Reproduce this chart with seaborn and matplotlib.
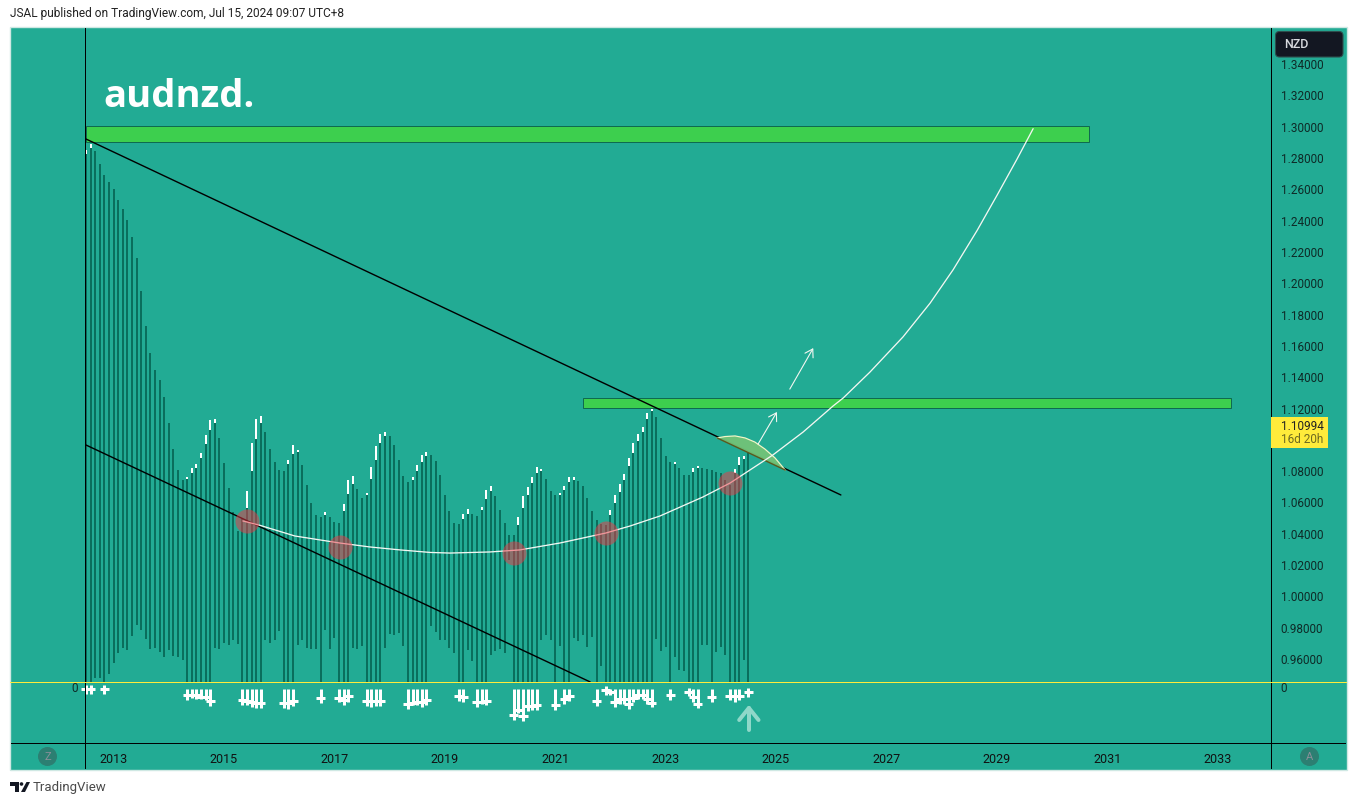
import matplotlib
matplotlib.use("Agg")
import matplotlib.pyplot as plt
from matplotlib.patches import Rectangle, Ellipse, Polygon, FancyBboxPatch
import numpy as np
import pandas as pd
import seaborn as sns

# ---------- data ----------
B = 0.9455  # the zero line of the lower pane
high = [
 1.2851,1.2889,1.2845,1.2762,1.2692,1.2647,1.2602,1.2532,1.2474,1.2404,
 1.2296,1.2161,1.1951,1.1727,1.1555,1.1446,1.1382,1.1274,1.1108,1.0942,
 1.0808,1.0744,1.0763,1.0821,1.0846,1.0916,1.1031,1.1127,1.1133,1.1012,
 1.0853,1.0693,1.0540,1.0418,1.0501,1.0673,1.0980,1.1133,1.1153,1.1050,
 1.0942,1.0859,1.0808,1.0801,1.0872,1.0967,1.0935,1.0840,1.0712,1.0597,
 1.0520,1.0508,1.0540,1.0508,1.0476,1.0469,1.0591,1.0744,1.0769,1.0686,
 1.0629,1.0661,1.0827,1.0961,1.1038,1.1050,1.1025,1.0967,1.0872,1.0769,
 1.0731,1.0763,1.0840,1.0904,1.0923,1.0904,1.0865,1.0776,1.0648,1.0546,
 1.0469,1.0463,1.0527,1.0559,1.0527,1.0514,1.0571,1.0680,1.0705,1.0642,
 1.0552,1.0469,1.0393,1.0393,1.0508,1.0642,1.0699,1.0763,1.0827,1.0814,
 1.0750,1.0673,1.0648,1.0661,1.0705,1.0763,1.0763,1.0737,1.0705,1.0629,
 1.0546,1.0489,1.0463,1.0457,1.0552,1.0648,1.0718,1.0782,1.0884,1.0980,
 1.1038,1.1082,1.1172,1.1223,1.1146,1.1012,1.0897,1.0859,1.0859,1.0821,
 1.0776,1.0776,1.0821,1.0833,1.0821,1.0814,1.0808,1.0795,1.0789,1.0744,
 1.0712,1.0814,1.0891,1.0897,1.0916]
body_top = [
 1.2826,1.2864,1.2845,1.2762,1.2692,1.2647,1.2602,1.2532,1.2474,1.2404,
 1.2296,1.2161,1.1951,1.1727,1.1555,1.1446,1.1382,1.1274,1.1108,1.0942,
 1.0808,1.0744,1.0750,1.0789,1.0821,1.0884,1.0974,1.1063,1.1108,1.1012,
 1.0853,1.0693,1.0540,1.0418,1.0501,1.0565,1.0801,1.1006,1.1108,1.1050,
 1.0942,1.0859,1.0808,1.0801,1.0846,1.0910,1.0923,1.0840,1.0712,1.0597,
 1.0520,1.0508,1.0520,1.0508,1.0476,1.0469,1.0546,1.0654,1.0718,1.0686,
 1.0629,1.0648,1.0750,1.0872,1.0980,1.1025,1.1025,1.0967,1.0872,1.0769,
 1.0731,1.0744,1.0801,1.0859,1.0897,1.0904,1.0865,1.0776,1.0648,1.0546,
 1.0469,1.0463,1.0495,1.0527,1.0527,1.0514,1.0552,1.0622,1.0673,1.0642,
 1.0552,1.0469,1.0393,1.0393,1.0457,1.0565,1.0648,1.0725,1.0789,1.0801,
 1.0750,1.0673,1.0648,1.0648,1.0680,1.0731,1.0744,1.0737,1.0705,1.0629,
 1.0546,1.0489,1.0463,1.0457,1.0520,1.0597,1.0667,1.0744,1.0833,1.0916,
 1.0993,1.1050,1.1133,1.1184,1.1146,1.1012,1.0897,1.0859,1.0846,1.0821,
 1.0776,1.0776,1.0795,1.0821,1.0821,1.0814,1.0808,1.0795,1.0789,1.0744,
 1.0712,1.0789,1.0840,1.0878,1.0916]
body_low = [
 B,B,.9480,.9480,B,.9505,.9576,.9640,.9671,.9659,
 .9748,.9818,.9786,.9729,.9665,.9671,.9646,.9614,.9659,.9620,
 .9614,.9595,B,B,B,B,B,B,.9671,.9665,
 .9703,.9691,.9723,.9697,B,B,B,B,B,.9723,
 .9703,.9723,.9780,B,B,B,.9691,.9723,.9671,.9665,
 .9665,B,.9786,.9665,.9735,B,B,B,.9671,.9665,
 .9684,B,B,B,B,.9671,.9761,.9754,.9767,.9684,
 B,B,B,B,B,.9812,.9773,.9723,.9723,.9671,
 .9640,B,B,.9659,.9588,B,B,B,.9627,.9652,
 .9665,.9640,1.0233,B,B,B,B,B,B,.9723,
 .9754,.9723,B,.9684,B,B,.9735,.9716,.9754,.9678,
 .9742,B,.9557,B,B,B,B,B,B,B,
 B,B,B,B,.9729,.9652,.9678,B,.9614,.9531,
 .9525,B,B,B,.9691,.9691,B,.9646,.9678,.9627,
 B,B,B,.9595,B]

tail_index = [0,1,4,22,23,24,25,26,27,34,35,36,37,38,43,44,45,51,55,56,57,61,62,63,64,
              70,71,72,73,74,81,82,85,86,87,93,94,95,96,97,98,102,104,105,111,113,114,
              115,116,117,118,119,120,121,122,123,127,131,132,133,136,140,141,142,144]
tail_top = [.9436,.9436,.9436]+[.9410]*42+[.9429]+[.9410]*11+[.9417]+[.9410]*6+[.9417]
tail_low = [.9378,.9378,.9378,.9340,.9353,.9346,.9346,.9340,.9302,.9308,.9308,.9295,.9289,.9289,
            .9289,.9283,.9302,.9321,.9327,.9308,.9327,.9302,.9295,.9302,.9302,
            .9283,.9308,.9308,.9295,.9308,.9334,.9327,.9295,.9315,.9308,.9212,.9253,.9206,
            .9270,.9274,.9276,.9276,.9315,.9334,.9302,.9372,.9372,
            .9295,.9315,.9315,.9283,.9327,.9346,.9346,.9315,.9295,.9340,.9366,.9327,.9289,
            .9327,.9340,.9327,.9340,.9359]
tail_cross = [.9410,.9410,.9410,.9370,.9370,.9370,.9361,.9355,.9332,.9338,.9332,.9323,.9319,.9319,
              .9319,.9319,.9332,.9351,.9353,.9340,.9363,.9334,.9334,.9334,.9334,
              .9312,.9321,.9327,.9327,.9338,.9363,.9357,.9325,.9325,.9332,.9242,.9276,.9236,
              .9300,.9302,.9306,.9306,.9346,.9366,.9332,.9404,.9391,
              .9325,.9344,.9344,.9315,.9349,.9370,.9370,.9344,.9321,.9370,.9391,.9357,.9315,
              .9357,.9366,.9366,.9366,.9391]

# upper and lower trend lines, the white curve, zones
upper_x, upper_y = [0, 164.1], [1.2921, 1.0648]
lower_x, lower_y = [0, 109.6], [1.0967, 0.9454]
curve_x = [34.1,37.6,45.4,55.2,61.7,68.3,74.8,79.1,87.8,94.3,103,113,118.3,124.8,134.1,140,
           149.3,155.9,162.4,164.6,170.4,177.6,183.5,188.5,193.7,198,202.4,205.9]
curve_y = [1.0482,1.0456,1.0386,1.0341,1.0316,1.0297,1.0281,1.0277,1.0284,1.0297,1.0341,1.0405,1.0450,1.0514,1.0635,1.0724,
           1.0903,1.1050,1.1216,1.1267,1.1432,1.1657,1.1873,1.2086,1.2336,1.2559,1.2793,1.2987]
touch_x = [35,55.2,93,113,140]
touch_y = [1.0482,1.0316,1.0277,1.0405,1.0724]
arc_x = [137.2,138.9,141.1,143.3,145.4,147.6,149.8,152]
arc_y = [1.1012,1.1021,1.1025,1.1012,1.0986,1.0941,1.0884,1.0807]
zones = [(0,218,1.2902,1.3004),(108,248.9,1.1203,1.1267)]
arrows = [((153,1.1324),(158.1,1.1586)),((146.1,1.0973),(150.2,1.1178))]
year_ticks = [6,30,54,78,102,126,150,174,198,222,246]
year_labels = ["2013","2015","2017","2019","2021","2023","2025","2027","2029","2031","2033"]
price_ticks = [0.96,0.98,1.00,1.02,1.04,1.06,1.08,1.12,1.14,1.16,1.18,1.20,1.22,1.24,1.26,1.28,1.30,1.32,1.34]
up_x = [142,144.1,146.2]
up_y = [0.9211,0.9288,0.9211]
up_stem_y = [0.9288,0.9147]

# ---------- style ----------
W, H = 1357, 805
TEAL = "#22AB94"; DARK = "#0A6E5C"; INK = "#0E2A27"
FONT = "Roboto"
sns.set_theme(style="white", rc={"font.family": FONT, "axes.facecolor": "none"})
fig = plt.figure(figsize=(W/100, H/100), dpi=100, facecolor="white")

def fx(p): return p/W
def fy(p): return 1-p/H

fig.add_artist(Rectangle((fx(10), fy(769.5)), 1337/W, 742.5/H, transform=fig.transFigure,
                         facecolor=TEAL, edgecolor="#cfe8e3", lw=1, zorder=-1))
ax = fig.add_axes([fx(11), fy(743), (1271-11)/W, (743-28)/H], zorder=1)
ax.set_xlim((11-86)/4.6, (1271-86)/4.6)
ax.set_ylim(1.34-(743-64)/1566, 1.34+36/1566)
for s in ["top", "left", "bottom", "right"]:
    ax.spines[s].set_visible(False)

idx = np.arange(len(high))
bars = pd.DataFrame({"i": idx, "high": high, "top": body_top, "low": body_low})
tails = pd.DataFrame({"i": tail_index, "top": tail_top, "low": tail_low, "cross": tail_cross})
PX = 0.72
ax.vlines(bars.i, bars.low, bars.top, color=DARK, lw=2*PX, zorder=2)
ax.vlines(bars.i, bars.top, bars.high, color="white", lw=2*PX, zorder=2)
ax.vlines(tails.i, tails.low, tails.top, color="white", lw=3*PX, zorder=2)
ax.hlines(tails.cross, tails.i-0.98, tails.i+0.98, color="white", lw=3*PX, zorder=2)

for x0, x1, y0, y1 in zones:
    ax.add_patch(Rectangle((x0, y0), x1-x0, y1-y0, facecolor="#3DCF4E", edgecolor="#0E6B50", lw=1*PX, zorder=3))

sns.lineplot(x=upper_x, y=upper_y, color="black", lw=1.4*PX, ax=ax, zorder=4, sort=False, estimator=None)
sns.lineplot(x=lower_x, y=lower_y, color="black", lw=1.4*PX, ax=ax, zorder=4, sort=False, estimator=None)
ax.fill(arc_x, arc_y, facecolor="#72C378", edgecolor="none", alpha=0.95, zorder=5)
sns.lineplot(x=arc_x, y=arc_y, color="#F3F6C8", lw=1.2*PX, ax=ax, zorder=5, sort=False, estimator=None)
sns.lineplot(x=[arc_x[0], arc_x[-1]], y=[arc_y[0], arc_y[-1]], color="#5A5A1E", lw=1.4*PX, ax=ax, zorder=5, sort=False, estimator=None)
sns.lineplot(x=curve_x, y=curve_y, color="#F4F7F2", lw=1.3*PX, ax=ax, zorder=5, sort=False, estimator=None)
sns.scatterplot(x=touch_x, y=touch_y, s=300, color="#F23645", alpha=0.5, linewidth=0, ax=ax, zorder=6)
for (a, b) in arrows:
    ax.annotate("", xy=b, xytext=a, zorder=6,
                arrowprops=dict(arrowstyle="->,head_length=0.45,head_width=0.28", color="#F4F7F2", lw=1.1*PX, shrinkA=0, shrinkB=0, mutation_scale=12))
sns.lineplot(x=up_x, y=up_y, color="#8FD8C9", lw=4*PX, ax=ax, zorder=4, sort=False, estimator=None)
sns.lineplot(x=[up_x[1], up_x[1]], y=up_stem_y, color="#8FD8C9", lw=4*PX, ax=ax, zorder=4, sort=False, estimator=None)
ax.get_legend() and ax.get_legend().remove()

ax.set_xticks(year_ticks, year_labels)
ax.yaxis.tick_right()
ax.set_yticks(price_ticks, [f"{v:.5f}" for v in price_ticks])
ax.tick_params(axis="x", length=0, pad=7.5, labelsize=9, labelcolor="#111111")
ax.tick_params(axis="y", length=0, pad=7, labelsize=8.5, labelcolor=INK)
ax.set_xlabel(""); ax.set_ylabel("")
ax.grid(False)

ax.text((103-86)/4.6, 1.34-(97-64)/1566, "audnzd.", color="white", fontsize=27.5, fontweight="bold",
        family="Open Sans", va="center", ha="left", zorder=7)

# pane frame: one-pixel strips
def fstrip(x0, y0, x1, y1, color="black", z=5):
    fig.add_artist(Rectangle((fx(x0), fy(y1)), (x1-x0)/W, (y1-y0)/H, transform=fig.transFigure,
                             facecolor=color, edgecolor="none", zorder=z))
fstrip(85, 28, 86, 769)
fstrip(1271, 28, 1272, 769)
fstrip(11, 743, 1346, 744)
fstrip(10, 682, 1347, 683, color="#FFEB3B")

def ftext(x, y, s, **kw):
    kw.setdefault("family", FONT)
    fig.text(fx(x), fy(y), s, **kw, zorder=8)

ftext(10, 14, "JSAL published on TradingView.com, Jul 15, 2024 09:07 UTC+8", fontsize=8.6, color="#222222", va="center")
ftext(71, 688, "0", fontsize=8.5, color=INK, va="center")
ftext(1280, 688, "0", fontsize=8.5, color=INK, va="center")

# currency badge and last-price tag
fig.add_artist(FancyBboxPatch((1275.5, H-57), 67.5, 25.5, transform=None,
                              boxstyle="round,pad=0,rounding_size=4",
                              facecolor="#131722", edgecolor="#2E4F4E", lw=0.8, zorder=6))
ftext(1284, 45, "NZD", fontsize=9, color="#D8DADF", va="center", fontweight="medium")
fig.add_artist(Rectangle((fx(1271), fy(448)), 57/W, 31/H, transform=fig.transFigure, facecolor="#FFEB3B", edgecolor="none", zorder=6))
ftext(1281, 426, "1.10994", fontsize=8.5, color="#222222", va="center")
ftext(1281, 439, "16d 20h", fontsize=8.5, color="#6E6A20", va="center")

# scale-mode buttons
for cx, letter in [(47.5, "Z"), (1309.5, "A")]:
    fig.add_artist(Ellipse((fx(cx), fy(756.5)), 19/W, 19/H, transform=fig.transFigure, facecolor="#2C7F72", edgecolor="none", zorder=6))
    fig.text(fx(cx), fy(756.5), letter, fontsize=8, color="#8A8F99", ha="center", va="center", family=FONT, zorder=8)

# TradingView wordmark
fig.add_artist(Polygon([(fx(10),fy(782)),(fx(18.5),fy(782)),(fx(18.5),fy(792)),(fx(14.5),fy(792)),(fx(14.5),fy(785.5)),(fx(10),fy(785.5))],
                       closed=True, transform=fig.transFigure, facecolor="#131722", edgecolor="none"))
fig.add_artist(Polygon([(fx(26.5),fy(782)),(fx(30),fy(782)),(fx(25),fy(792)),(fx(21),fy(792))],
                       closed=True, transform=fig.transFigure, facecolor="#131722", edgecolor="none"))
fig.add_artist(Ellipse((fx(21.5), fy(784)), 3.6/W, 3.6/H, transform=fig.transFigure, facecolor="#131722", edgecolor="none"))
ftext(33, 787.5, "TradingView", fontsize=9.5, color="#4A4A4A", va="center")

fig.savefig("out.png", dpi=100, facecolor="white")
